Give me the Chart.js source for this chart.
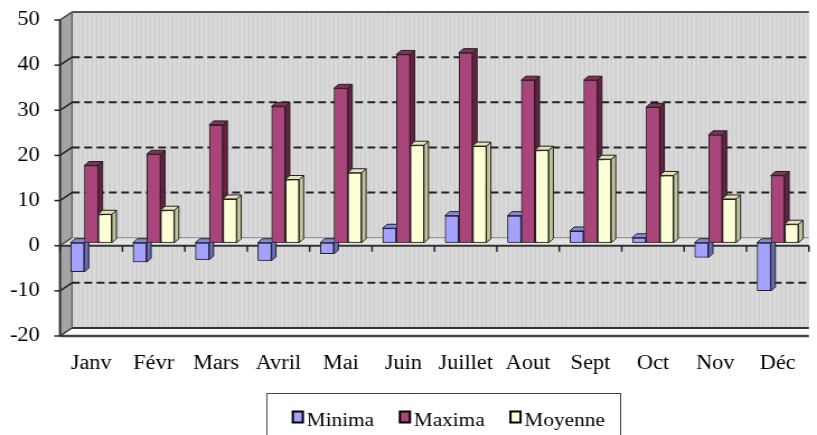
<!DOCTYPE html>
<html>
<head>
<meta charset="utf-8">
<script src="https://cdn.jsdelivr.net/npm/chart.js@4.4.1/dist/chart.umd.min.js"></script>
<style>
  html, body { margin: 0; padding: 0; background: #fff; overflow: hidden; }
  /* the reference is a bit wider than tall text would suggest, so stretch horizontally */
  #wrap { width: 730px; height: 435px; transform: scaleX(1.1192); transform-origin: 0 0; }
</style>
</head>
<body>
<div id="wrap"><canvas id="chart"></canvas></div>
<script>
const months = ['Janv', 'Févr', 'Mars', 'Avril', 'Mai', 'Juin', 'Juillet', 'Aout', 'Sept', 'Oct', 'Nov', 'Déc'];
const minima = [-6.5, -4.3, -3.8, -4, -2.5, 3.2, 6, 6, 2.6, 1.1, -3.3, -10.7];
const maxima = [17.1, 19.6, 26.1, 30.2, 34.2, 41.7, 42.1, 36, 36, 30, 23.9, 14.9];
const moyenne = [6.3, 7.2, 9.7, 14, 15.5, 21.6, 21.4, 20.5, 18.5, 14.9, 9.7, 4.1];
const seriesNames = ['Minima', 'Maxima', 'Moyenne'];
const yTickValues = [-20, -10, 0, 10, 20, 30, 40, 50];

const front = ['#a3a3ff', '#a9457a', '#ffffd6'];
const side = ['#6a6abf', '#6b1e43', '#c4c49a'];
const top_ = ['#8787e0', '#82305a', '#e4e4b8'];

const FRONT_DY = 3, BACK_DX = 10.7, BACK_DY = -8, BAR_DX = 4, BAR_DY = -4;
const font = { family: '"Liberation Serif", "Times New Roman", serif', size: 20 };

function poly(ctx, pts, fill, stroke, lw) {
  ctx.beginPath();
  ctx.moveTo(pts[0][0], pts[0][1]);
  for (let i = 1; i < pts.length; i++) ctx.lineTo(pts[i][0], pts[i][1]);
  ctx.closePath();
  if (fill) { ctx.fillStyle = fill; ctx.fill(); }
  if (stroke) { ctx.strokeStyle = stroke; ctx.lineWidth = lw || 1; ctx.stroke(); }
}
function line(ctx, x1, y1, x2, y2, color, lw, dash) {
  ctx.beginPath();
  ctx.setLineDash(dash || []);
  ctx.moveTo(x1, y1); ctx.lineTo(x2, y2);
  ctx.strokeStyle = color; ctx.lineWidth = lw; ctx.stroke();
  ctx.setLineDash([]);
}

const walls = {
  id: 'walls',
  beforeDatasetsDraw(chart) {
    const {ctx, chartArea: a, scales: {y}} = chart;
    const L = a.left, R = a.right, B = L + BACK_DX;
    const fy = v => y.getPixelForValue(v) + FRONT_DY;
    const by = v => fy(v) + BACK_DY;
    const lo = yTickValues[0], hi = yTickValues[yTickValues.length - 1];
    ctx.save();
    // back wall
    ctx.fillStyle = '#dadada';
    ctx.fillRect(B, by(hi), R - B, by(lo) - by(hi));
    for (let xs = B + 2; xs < R; xs += 4) line(ctx, xs, by(hi), xs, by(lo), 'rgba(0,0,0,0.045)', 1.5);
    // left wall
    poly(ctx, [[L, fy(hi)], [B, by(hi)], [B, by(lo)], [L, fy(lo)]], '#a4a4a4', '#444', 1);
    // floor
    poly(ctx, [[L, fy(lo)], [B, by(lo)], [R, by(lo)], [R, fy(lo)]], '#ffffff');
    line(ctx, B, by(lo), R, by(lo), '#333', 2);
    line(ctx, L, fy(lo), R, fy(lo), '#444', 2.5);
    line(ctx, L, fy(lo), B, by(lo), '#333', 1.5);
    line(ctx, B, by(hi), R, by(hi), '#555', 2);
    line(ctx, L, fy(hi), B, by(hi), '#444', 1.5);
    // dashed gridlines on the back wall
    yTickValues.forEach(v => {
      if (v === lo || v === hi || v === 0) return;
      line(ctx, L, fy(v), B, by(v), '#222', 1.5);
      line(ctx, B, by(v), R, by(v), '#222', 2, [7, 4]);
    });
    // zero plane
    poly(ctx, [[L, fy(0)], [B, by(0)], [R, by(0)], [R, fy(0)]], '#e3e3e3');
    line(ctx, B, by(0), R, by(0), '#8a8a8a', 1);
    line(ctx, L, fy(0), B, by(0), '#555', 1.5);
    line(ctx, L, fy(0), R, fy(0), '#333', 2);
    // front axis and ticks
    line(ctx, L, fy(hi), L, fy(lo), '#333', 2);
    yTickValues.forEach(v => line(ctx, L - 5, fy(v), L, fy(v), '#222', 1.5));
    const n = months.length;
    for (let i = 0; i <= n; i++) {
      const bx = L + i * (R - L) / n;
      line(ctx, bx, fy(0), bx, fy(0) + 6, '#222', 1.5);
    }
    ctx.restore();
  }
};

const bars3d = {
  id: 'bars3d',
  afterDatasetsDraw(chart) {
    const ctx = chart.ctx;
    ctx.save();
    for (let j = 0; j < months.length; j++) {
      for (let k = 0; k < chart.data.datasets.length; k++) {
        const bar = chart.getDatasetMeta(k).data[j];
        const {x, y, base, width} = bar.getProps(['x', 'y', 'base', 'width'], true);
        const t = Math.min(y, base), b = Math.max(y, base);
        const l = x - width / 2, r = x + width / 2;
        poly(ctx, [[r, t], [r + BAR_DX, t + BAR_DY], [r + BAR_DX, b + BAR_DY], [r, b]], side[k], '#222', 1);
        poly(ctx, [[l, t], [l + BAR_DX, t + BAR_DY], [r + BAR_DX, t + BAR_DY], [r, t]], top_[k], '#222', 1);
        bar.draw(ctx);
      }
    }
    ctx.restore();
  }
};

const legendBox = {
  id: 'legendBox',
  afterDraw(chart) {
    const ctx = chart.ctx;
    ctx.save();
    ctx.strokeStyle = '#444';
    ctx.lineWidth = 1;
    ctx.strokeRect(238.5, 393.5, 316, 60);
    ctx.font = '19px "Liberation Serif", "Times New Roman", serif';
    ctx.textBaseline = 'alphabetic';
    let x = 261.6;
    chart.data.datasets.forEach(ds => {
      ctx.fillStyle = ds.backgroundColor;
      ctx.fillRect(x, 411.5, 9, 11);
      ctx.lineWidth = 2;
      ctx.strokeStyle = '#000';
      ctx.strokeRect(x, 411.5, 9, 11);
      ctx.fillStyle = '#000';
      ctx.fillText(ds.label, x + 12.5, 426);
      x += 12.5 + ctx.measureText(ds.label).width + 23;
    });
    ctx.restore();
  }
};

new Chart(document.getElementById('chart'), {
  type: 'bar',
  data: {
    labels: months,
    datasets: [
      { label: seriesNames[0], data: minima, backgroundColor: front[0] },
      { label: seriesNames[1], data: maxima, backgroundColor: front[1] },
      { label: seriesNames[2], data: moyenne, backgroundColor: front[2] }
    ]
  },
  options: {
    responsive: true,
    maintainAspectRatio: false,
    animation: false,
    layout: { padding: { top: 17, right: 0, bottom: 52, left: 0 } },
    datasets: {
      bar: { categoryPercentage: 0.665, barPercentage: 1, borderWidth: 1, borderColor: '#222', borderSkipped: false }
    },
    plugins: {
      legend: { display: false },
      tooltip: { enabled: false }
    },
    scales: {
      x: {
        grid: { display: false, drawTicks: false },
        border: { display: false },
        ticks: { font: font, color: '#000', padding: 19, maxRotation: 0, autoSkip: false },
        afterFit: s => { s.height = 50; }
      },
      y: {
        min: -20,
        max: 50,
        grid: { display: false, drawTicks: false },
        border: { display: false },
        ticks: { stepSize: 10, font: font, color: '#000', padding: 18, labelOffset: 3 },
        afterFit: s => { s.width = 53.6; s.paddingTop = 0; s.paddingBottom = 0; }
      }
    }
  },
  plugins: [walls, bars3d, legendBox]
});
</script>
</body>
</html>
